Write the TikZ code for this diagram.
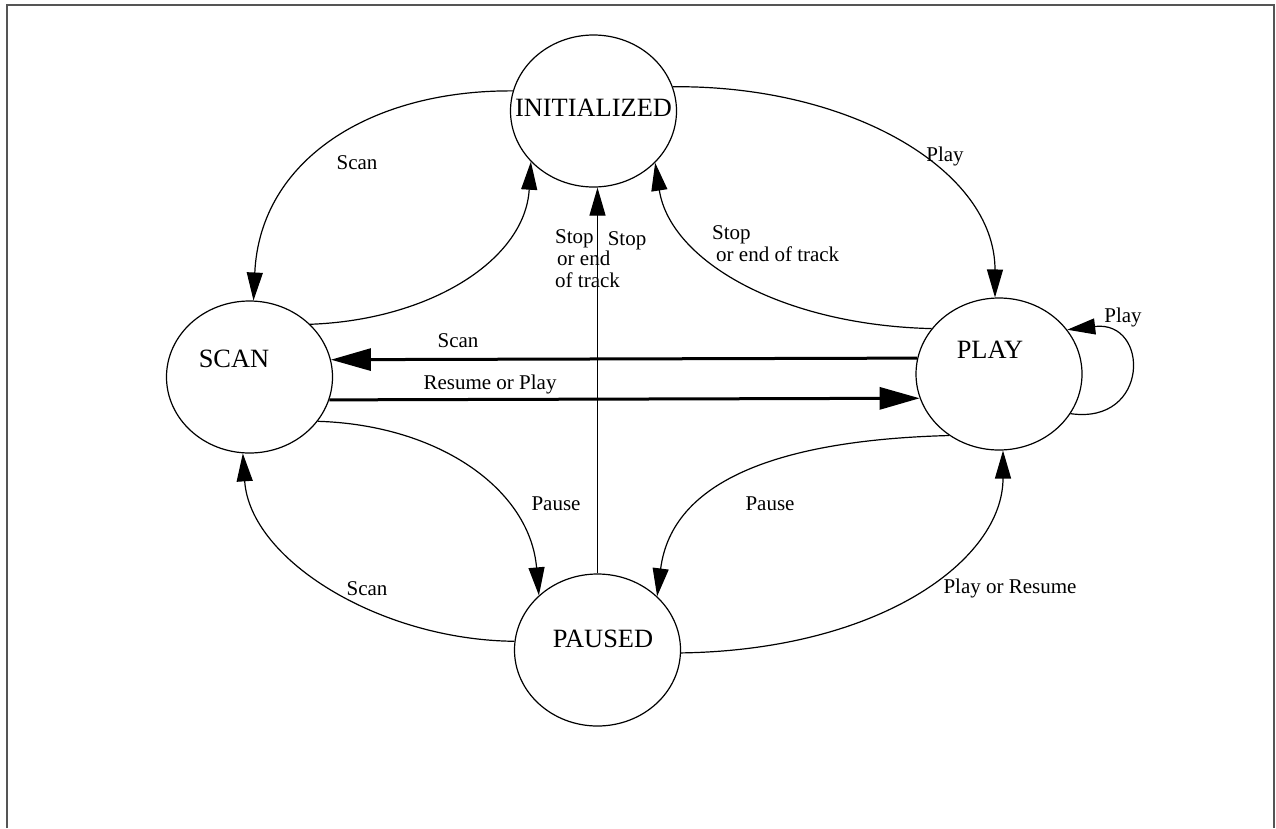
\documentclass[tikz,border=0pt]{standalone}
\usepackage{fontspec}
\setmainfont{Liberation Serif}
\usetikzlibrary{shapes.geometric,arrows.meta}
\definecolor{framegray}{RGB}{85,85,85}
\begin{document}
\begin{tikzpicture}[x=1pt,y=-1pt,
 state/.style={draw, ellipse, minimum width=166pt, minimum height=152pt, inner sep=0pt, line width=1.2pt},
 stext/.style={font=\fontsize{26.4}{30}\selectfont, inner sep=0pt, text height=17.5pt, text depth=0pt},
 lbl/.style={font=\fontsize{21}{22.5}\selectfont, inner sep=0pt, text height=14pt, text depth=0pt},
 mlbl/.style={font=\fontsize{21}{22}\selectfont, inner sep=0pt, align=left, anchor=north west},
 conn/.style={line width=1.2pt, -{Triangle[length=28pt,width=16pt]}},
 thickconn/.style={line width=3pt, -{Triangle[length=40pt,width=22pt]}},
]
\useasboundingbox (0,0) rectangle (1276,828);
\draw[framegray, line width=2pt] (6.5,828) -- (6.5,5) -- (1273.5,5) -- (1273.5,828);

\node[state] (init) at (593.5,111) {};
\node[state] (scan) at (249.5,377) {};
\node[state] (play) at (999,374) {};
\node[state] (paused) at (597.5,650) {};
\node[stext] (tinit) at (593.5,108) {INITIALIZED};
\node[stext] (tscan) at (234,359) {SCAN};
\node[stext] (tplay) at (990,350) {PLAY};
\node[stext] (tpaused) at (603,639) {PAUSED};

\draw[conn] (init.166) .. controls (370,90) and (260,160) .. (scan.87);
\draw[conn] (scan.41) .. controls (430,320) and (525,260) .. (init.219);
\draw[conn] (paused.north) -- (init.south -| paused.north);
\draw[conn] (init.17) .. controls (850,85) and (995,170) .. (play.93);
\draw[conn] (play.146) .. controls (780,325) and (670,260) .. (init.-40);
\draw[thickconn] (play.169) -- (scan.12);
\draw[thickconn] (scan.-16) -- (play.197);
\draw[conn] (play.-29) .. controls (1150,425) and (1150,320) .. (play.33);
\draw[conn] (scan.-33) .. controls (440,425) and (530,490) .. (paused.137);
\draw[conn] (play.-129) .. controls (780,440) and (672,480) .. (paused.42);
\draw[conn] (paused.174) .. controls (380,640) and (250,560) .. (scan.-95);
\draw[conn] (paused.-2) .. controls (880,650) and (1003,560) .. (play.-87);

\node[lbl] (l1) at (357,162) {Scan};
\node[mlbl] (l2) at (555,229) {Stop\\\hspace{2pt}or end\\of track};
\node[lbl] (l3) at (627,238) {Stop};
\node[lbl] (l4) at (945,154) {Play};
\node[mlbl] (l5) at (712,225) {Stop\\\hspace{4pt}or end of track};
\node[lbl] (l6) at (458,340) {Scan};
\node[lbl] (l7) at (490,382) {Resume or Play};
\node[lbl] (l8) at (1123,315) {Play};
\node[lbl] (l9) at (556,503) {Pause};
\node[lbl] (l10) at (770,503) {Pause};
\node[lbl] (l11) at (367,588) {Scan};
\node[lbl] (l12) at (1010,586) {Play or Resume};
\end{tikzpicture}
\end{document}
